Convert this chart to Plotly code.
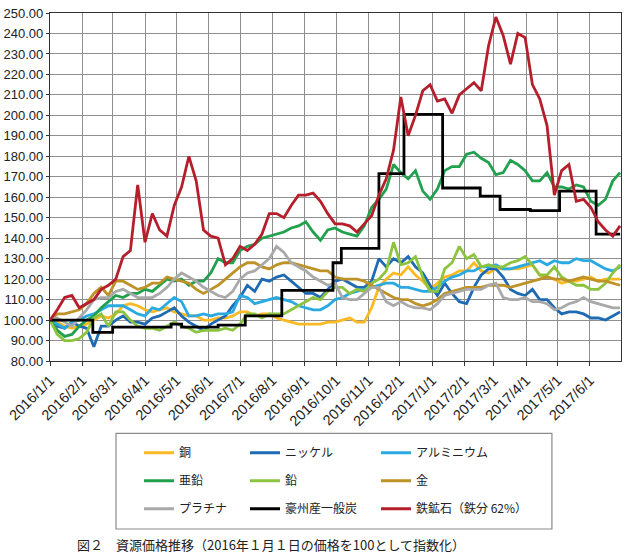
import pandas as pd
import plotly.graph_objects as go

# weekly observation dates (2016-01-01 .. 2017-06-30)
dates = pd.date_range("2016-01-01", periods=79, freq="7D")

copper = [100, 99, 97, 96, 97, 98, 100, 102, 101, 103,
          107, 108, 107, 105, 104, 105, 106, 104, 103, 102,
          102, 100, 100, 101, 101, 102, 104, 104, 102, 103,
          103, 101, 100, 99, 98, 98, 98, 98, 99, 99,
          100, 101, 99, 99, 106, 116, 120, 123, 122, 126,
          122, 119, 115, 118, 121, 122, 124, 124, 128, 124,
          123, 125, 125, 125, 125, 126, 127, 122, 121, 120,
          118, 119, 119, 120, 121, 119, 120, 120, 120]
nickel = [100, 97, 96, 99, 97, 96, 87, 97, 97, 100,
          102, 99, 99, 98, 101, 102, 104, 106, 102, 99,
          97, 95, 98, 100, 102, 107, 111, 117, 114, 120,
          119, 121, 122, 119, 116, 113, 113, 111, 115, 119,
          120, 118, 116, 116, 119, 130, 126, 130, 128, 131,
          126, 123, 117, 112, 118, 113, 109, 108, 116, 122,
          125, 125, 121, 115, 113, 112, 115, 110, 110, 106,
          103, 104, 104, 103, 101, 101, 100, 102, 104]
aluminium = [100, 98, 96, 99, 100, 102, 103, 105, 107, 107,
             107, 105, 103, 102, 106, 105, 108, 111, 109, 102,
             102, 103, 102, 103, 103, 104, 112, 111, 108, 109,
             110, 111, 110, 109, 107, 106, 105, 105, 107, 110,
             111, 113, 114, 115, 116, 117, 118, 118, 116, 116,
             115, 114, 114, 116, 119, 121, 122, 124, 124, 126,
             126, 127, 125, 125, 126, 127, 128, 129, 127, 129,
             128, 128, 130, 129, 129, 127, 125, 124, 126]
zinc = [100, 95, 92, 93, 97, 100, 102, 106, 109, 112,
        111, 113, 113, 115, 114, 117, 120, 119, 120, 117,
        119, 119, 123, 130, 128, 128, 134, 136, 137, 140,
        141, 142, 143, 145, 146, 148, 143, 139, 144, 145,
        143, 142, 141, 146, 155, 159, 164, 176, 172, 169,
        173, 163, 159, 164, 173, 175, 175, 181, 182, 179,
        177, 171, 172, 178, 176, 173, 168, 168, 172, 165,
        165, 164, 166, 165, 158, 156, 159, 168, 172]
lead = [100, 93, 90, 90, 91, 94, 101, 103, 97, 104,
        104, 100, 97, 96, 96, 95, 97, 99, 97, 96,
        94, 95, 95, 95, 96, 95, 98, 103, 103, 101,
        103, 103, 103, 105, 107, 109, 111, 110, 114, 116,
        116, 113, 115, 114, 118, 120, 124, 138, 127, 128,
        131, 121, 114, 114, 125, 128, 136, 130, 132, 126,
        127, 126, 126, 128, 129, 131, 127, 122, 122, 126,
        121, 119, 117, 117, 115, 115, 118, 123, 127]
gold = [100, 103, 103, 104, 105, 108, 113, 116, 112, 119,
        119, 117, 115, 116, 118, 118, 121, 120, 119, 118,
        115, 113, 115, 117, 120, 123, 126, 128, 128, 126,
        125, 127, 128, 128, 127, 126, 125, 124, 124, 121,
        120, 120, 120, 119, 117, 115, 113, 111, 110, 110,
        108, 107, 108, 110, 113, 114, 115, 116, 116, 116,
        117, 117, 117, 116, 117, 118, 119, 120, 121, 120,
        120, 119, 120, 121, 120, 119, 119, 118, 117]
platinum = [100, 101, 99, 97, 101, 105, 110, 111, 111, 114,
            115, 113, 111, 111, 111, 113, 116, 120, 123, 121,
            119, 116, 114, 112, 111, 114, 120, 123, 124, 127,
            130, 136, 133, 128, 126, 124, 121, 119, 117, 118,
            111, 110, 110, 113, 116, 116, 109, 107, 109, 107,
            106, 106, 105, 108, 112, 113, 114, 115, 115, 115,
            117, 118, 111, 110, 110, 111, 109, 109, 108, 105,
            106, 108, 109, 111, 109, 108, 107, 106, 106]
iron_ore = [100, 105, 111, 112, 106, 108, 110, 115, 117, 120,
            131, 134, 166, 138, 152, 144, 141, 156, 165, 180,
            168, 144, 141, 140, 127, 130, 136, 134, 137, 142,
            152, 152, 150, 156, 161, 161, 162, 158, 152, 147,
            147, 146, 143, 147, 151, 161, 169, 183, 209, 190,
            200, 212, 215, 207, 208, 201, 210, 213, 216, 212,
            234, 248, 239, 225, 240, 238, 215, 208, 195, 161,
            173, 176, 158, 159, 155, 148, 144, 141, 146]

# Australian thermal coal: step series (date of change, new level)
coal_dates = ["2016-01-01", "2016-02-11", "2016-03-01", "2016-04-26", "2016-05-06",
              "2016-06-10", "2016-07-06", "2016-08-10", "2016-09-28", "2016-10-06",
              "2016-11-11", "2016-12-05", "2017-01-11", "2017-02-16", "2017-03-07",
              "2017-04-05", "2017-05-03", "2017-06-07", "2017-06-30"]
coal_values = [100, 94, 96.5, 98, 96.5, 97.5, 102, 114.5, 128, 135,
               171.5, 200.5, 164.5, 160.5, 154, 153.5, 163, 142, 142]

names = ["銅", "ニッケル", "アルミニウム", "亜鉛", "鉛", "金", "プラチナ", "豪州産一般炭", "鉄鉱石（鉄分 62%）"]
colors = ["#FBB924", "#1E6BB4", "#2AAAE1", "#21A04E", "#8CC43F", "#BE9226", "#A9A9A9", "#000000", "#B51F2B"]
legend_ids = ["legend", "legend2", "legend3", "legend", "legend2", "legend3", "legend", "legend2", "legend3"]
series = [copper, nickel, aluminium, zinc, lead, gold, platinum, None, iron_ore]

fig = go.Figure()
for i, name in enumerate(names):
    if series[i] is None:
        x, y, shape = coal_dates, coal_values, "hv"
    else:
        x, y, shape = dates, series[i], "linear"
    fig.add_trace(go.Scatter(
        x=x, y=y, mode="lines", name=name,
        line=dict(color=colors[i], width=2.8, shape=shape),
        legend=legend_ids[i], legendgroup=name,
    ))


def legend_at(xpx):
    return dict(
        orientation="v", xref="container", x=xpx / 627, xanchor="left",
        yanchor="top", y=-0.222,
        bgcolor="rgba(0,0,0,0)", borderwidth=0, traceorder="grouped", tracegroupgap=9,
        font=dict(family="Noto Sans CJK JP", size=12, color="#222222"),
    )


fig.update_layout(
    width=627, height=556,
    margin=dict(l=50, r=6, t=13, b=195, autoexpand=False),
    paper_bgcolor="white", plot_bgcolor="white",
    showlegend=True,
    legend=legend_at(139),
    legend2=legend_at(245),
    legend3=legend_at(376),
    xaxis=dict(
        type="date", range=["2016-01-01", "2017-06-30 20:00"],
        tick0="2016-01-01", dtick="M1", tickformat="%Y/%-m/%-d", tickangle=-45,
        showgrid=True, gridcolor="#8f8f8f", gridwidth=1.2,
        showline=True, linecolor="#333333", linewidth=1.3, mirror=True,
        ticks="outside", ticklen=4, tickcolor="#333333",
        tickfont=dict(family="Liberation Sans", size=14.5, color="#222222"),
        zeroline=False,
    ),
    yaxis=dict(
        range=[80, 250], dtick=10, tick0=80, tickformat=".2f",
        showgrid=True, gridcolor="#8f8f8f", gridwidth=1.2,
        showline=True, linecolor="#333333", linewidth=1.3, mirror=True,
        ticks="outside", ticklen=3, tickcolor="#333333",
        tickfont=dict(family="Liberation Sans", size=13, color="#222222"),
        zeroline=False,
    ),
    shapes=[dict(type="rect", xref="paper", yref="paper",
                 x0=0.1156, x1=0.879, y0=-0.4828, y1=-0.2078,
                 line=dict(color="#8a8a8a", width=1.2), fillcolor="rgba(0,0,0,0)")],
    annotations=[dict(
        text="図２　資源価格推移（2016年１月１日の価格を100として指数化）",
        xref="paper", yref="paper", x=0.0438, y=-0.527,
        xanchor="left", yanchor="middle", showarrow=False,
        font=dict(family="Noto Sans CJK JP", size=13, color="#222222"),
    )],
)

fig.write_html("out.html")
